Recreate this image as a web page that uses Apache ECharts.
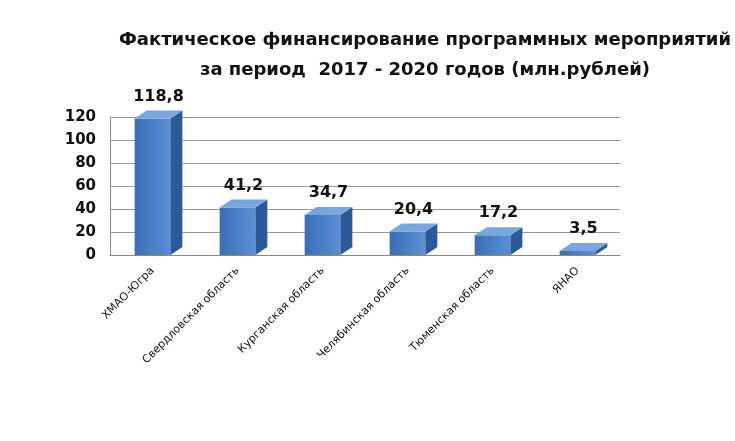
<!DOCTYPE html>
<html><head><meta charset="utf-8">
<script src="https://cdn.jsdelivr.net/npm/echarts@6/dist/echarts.min.js"></script>
<style>html,body{margin:0;padding:0;background:#fff}#c{width:735px;height:441px}</style>
</head><body><div id="c"></div>
<script>
const titleLines = ['Фактическое финансирование программных мероприятий', 'за период  2017 - 2020 годов (млн.рублей)'];
const categories = ['ХМАО-Югра','Свердловская область','Курганская область','Челябинская область','Тюменская область','ЯНАО'];
const values = [118.8, 41.2, 34.7, 20.4, 17.2, 3.5];
const yTicks = [0, 20, 40, 60, 80, 100, 120];

const chart = echarts.init(document.getElementById('c'));
const dx = 12, dy = -8;
chart.setOption({
  animation: false,
  backgroundColor: '#fff',
  title: {
    text: titleLines.join('\n'), left: 420, textAlign: 'center', top: 20,
    textStyle: { fontFamily: 'DejaVu Sans', fontSize: 18, fontWeight: 'bold', color: '#111', lineHeight: 30 }
  },
  grid: { left: 110, right: 115, top: 117, bottom: 186 },
  xAxis: {
    type: 'category', data: categories,
    axisLine: { lineStyle: { color: '#888' } }, axisTick: { show: false },
    axisLabel: { rotate: 45, fontFamily: 'DejaVu Sans', fontSize: 11, color: '#111', interval: 0, margin: 14 }
  },
  yAxis: {
    type: 'value', min: 0, max: 120, interval: 20,
    axisLine: { show: true, lineStyle: { color: '#888' } },
    axisLabel: { fontFamily: 'DejaVu Sans', fontSize: 15, fontWeight: 'bold', color: '#111', margin: 14,
      formatter: v => yTicks.includes(v) ? String(v) : '' },
    splitLine: { lineStyle: { color: '#999' } }
  },
  series: [{
    type: 'custom',
    data: values.map((v, i) => [i, v]),
    renderItem: (params, api) => {
      const i = api.value(0), v = api.value(1);
      const base = api.coord([i, 0]), top = api.coord([i, v]);
      const w = api.size([1, 0])[0] * 0.42;
      const x0 = base[0] - w / 2, x1 = base[0] + w / 2, y0 = base[1], y1 = top[1];
      return { type: 'group', children: [
        { type: 'rect', shape: { x: x0, y: y1, width: w, height: y0 - y1 },
          style: { fill: new echarts.graphic.LinearGradient(0,0,1,0,[{offset:0,color:'#3a6fb5'},{offset:1,color:'#5b8fd6'}]) } },
        { type: 'polygon', shape: { points: [[x1,y1],[x1+dx,y1+dy],[x1+dx,y0+dy],[x1,y0]] }, style: { fill: '#2c5a99' } },
        { type: 'polygon', shape: { points: [[x0,y1],[x0+dx,y1+dy],[x1+dx,y1+dy],[x1,y1]] }, style: { fill: '#7aa6e0' } },
        { type: 'text', x: base[0] + dx / 2, y: y1 + dy - 6,
          style: { text: String(v).replace('.', ','), fontFamily: 'DejaVu Sans', fontSize: 16, fontWeight: 'bold', fill: '#111', align: 'center', verticalAlign: 'bottom' } }
      ]};
    }
  }]
});
</script></body></html>
